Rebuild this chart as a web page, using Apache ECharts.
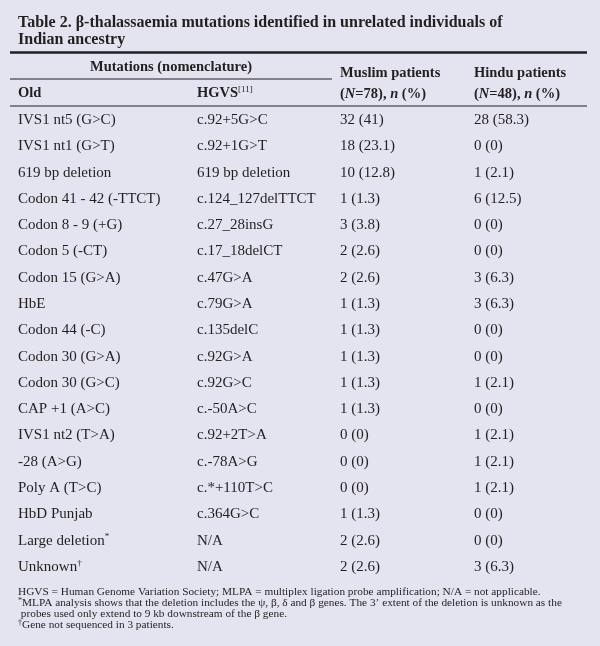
<!DOCTYPE html>
<html>
<head>
<meta charset="utf-8">
<script src="https://cdn.jsdelivr.net/npm/echarts@6/dist/echarts.min.js"></script>
<style>
  html, body { margin: 0; padding: 0; background: #e3e4f0; }
  #main { width: 600px; height: 646px; }
</style>
</head>
<body>
<div id="main"></div>
<script>
// table data
var oldNames = ['IVS1 nt5 (G>C)', 'IVS1 nt1 (G>T)', '619 bp deletion', 'Codon 41 - 42 (-TTCT)',
    'Codon 8 - 9 (+G)', 'Codon 5 (-CT)', 'Codon 15 (G>A)', 'HbE', 'Codon 44 (-C)',
    'Codon 30 (G>A)', 'Codon 30 (G>C)', 'CAP +1 (A>C)', 'IVS1 nt2 (T>A)', '-28 (A>G)',
    'Poly A (T>C)', 'HbD Punjab', 'Large deletion', 'Unknown'];
var oldMarks = ['', '', '', '', '', '', '', '', '', '', '', '', '', '', '', '', '*', '†'];
var hgvsNames = ['c.92+5G>C', 'c.92+1G>T', '619 bp deletion', 'c.124_127delTTCT', 'c.27_28insG',
    'c.17_18delCT', 'c.47G>A', 'c.79G>A', 'c.135delC', 'c.92G>A', 'c.92G>C', 'c.-50A>C',
    'c.92+2T>A', 'c.-78A>G', 'c.*+110T>C', 'c.364G>C', 'N/A', 'N/A'];
var muslimCounts = [32, 18, 10, 1, 3, 2, 2, 1, 1, 1, 1, 1, 0, 0, 0, 1, 2, 2];
var muslimPct = [41, 23.1, 12.8, 1.3, 3.8, 2.6, 2.6, 1.3, 1.3, 1.3, 1.3, 1.3, 0, 0, 0, 1.3, 2.6, 2.6];
var hinduCounts = [28, 0, 1, 6, 0, 0, 3, 3, 0, 0, 1, 0, 1, 1, 1, 0, 0, 3];
var hinduPct = [58.3, 0, 2.1, 12.5, 0, 0, 6.3, 6.3, 0, 0, 2.1, 0, 2.1, 2.1, 2.1, 0, 0, 6.3];

var titleLines = ['Table 2. β-thalassaemia mutations identified in unrelated individuals of',
    'Indian ancestry'];
var footLines = [
    'HGVS = Human Genome Variation Society; MLPA = multiplex ligation probe amplification; N/A = not applicable.',
    '{sup|*}MLPA analysis shows that the deletion includes the ψ, β, δ and β genes. The 3’ extent of the deletion is unknown as the',
    ' probes used only extend to 9 kb downstream of the β gene.',
    '{sup|†}Gene not sequenced in 3 patients.'
];

// layout (pixels inside the grid)
var colX = [8, 187, 330, 464];
var FONT = '"Liberation Serif", "DejaVu Serif", serif';
var INK = '#231f20';

var chart = echarts.init(document.getElementById('main'));

function cellText(i, c) {
    if (c === 0) return oldNames[i] + (oldMarks[i] ? '{sup|' + oldMarks[i] + '}' : '');
    if (c === 1) return hgvsNames[i];
    if (c === 2) return muslimCounts[i] + ' (' + muslimPct[i] + ')';
    return hinduCounts[i] + ' (' + hinduPct[i] + ')';
}

var supRich = { sup: { fontSize: 9, verticalAlign: 'top', padding: [0, 0, 7, 0], fontFamily: FONT, fill: INK, color: INK } };
var italicRich = { i: { fontStyle: 'italic', fontWeight: 'bold', fontSize: 14.5, fontFamily: FONT, fill: INK } };

var option = {
    backgroundColor: '#e3e4f0',
    animation: false,
    grid: { left: 10, right: 13, top: 107, bottom: 66 },
    xAxis: { type: 'value', min: 0, max: 577, show: false },
    yAxis: {
        type: 'category', inverse: true, show: false,
        data: oldNames.map(function (n, i) { return i; })
    },
    graphic: [
        { type: 'text', left: 18, top: 15, style: { text: titleLines[0], font: 'bold 16px ' + FONT, fill: INK } },
        { type: 'text', left: 18, top: 32, style: { text: titleLines[1], font: 'bold 16px ' + FONT, fill: INK } },
        { type: 'line', shape: { x1: 10, y1: 52.5, x2: 587, y2: 52.5 }, style: { stroke: INK, lineWidth: 2.5 } },
        { type: 'line', shape: { x1: 10, y1: 79, x2: 332, y2: 79 }, style: { stroke: INK, lineWidth: 1.2 } },
        { type: 'line', shape: { x1: 10, y1: 106, x2: 587, y2: 106 }, style: { stroke: INK, lineWidth: 1.2 } },
        { type: 'text', x: 171, y: 67, style: { text: 'Mutations (nomenclature)', font: 'bold 14.5px ' + FONT, fill: INK, align: 'center', verticalAlign: 'middle' } },
        { type: 'text', x: 18, y: 93, style: { text: 'Old', font: 'bold 14.5px ' + FONT, fill: INK, verticalAlign: 'middle' } },
        { type: 'text', x: 197, y: 93, style: { text: 'HGVS{sup|[11]}', font: 'bold 14.5px ' + FONT, fill: INK, verticalAlign: 'middle', rich: supRich } },
        { type: 'text', x: 340, y: 73, style: { text: 'Muslim patients', font: 'bold 14.5px ' + FONT, fill: INK, verticalAlign: 'middle' } },
        { type: 'text', x: 340, y: 94, style: { text: '({i|N}=78), {i|n} (%)', font: 'bold 14.5px ' + FONT, fill: INK, verticalAlign: 'middle', rich: italicRich } },
        { type: 'text', x: 474, y: 73, style: { text: 'Hindu patients', font: 'bold 14.5px ' + FONT, fill: INK, verticalAlign: 'middle' } },
        { type: 'text', x: 474, y: 94, style: { text: '({i|N}=48), {i|n} (%)', font: 'bold 14.5px ' + FONT, fill: INK, verticalAlign: 'middle', rich: italicRich } }
    ].concat(footLines.map(function (t, k) {
        return { type: 'text', x: 18, y: 592 + k * 11, style: { text: t, font: '11.3px ' + FONT, fill: INK, verticalAlign: 'middle',
            rich: { sup: { fontSize: 8, verticalAlign: 'top', padding: [0, 0, 5, 0], fontFamily: FONT, fill: INK } } } };
    })),
    series: [{
        type: 'custom',
        coordinateSystem: 'cartesian2d',
        data: oldNames.map(function (n, i) { return [0, i]; }),
        encode: { x: 0, y: 1 },
        renderItem: function (params, api) {
            var i = api.value(1);
            var children = colX.map(function (cx, c) {
                var p = api.coord([cx, i]);
                return {
                    type: 'text',
                    x: p[0], y: p[1],
                    style: {
                        text: cellText(i, c),
                        font: '15px ' + FONT,
                        fill: INK,
                        align: 'left',
                        verticalAlign: 'middle',
                        rich: supRich
                    }
                };
            });
            return { type: 'group', children: children };
        }
    }]
};
chart.setOption(option);
</script>
</body>
</html>
